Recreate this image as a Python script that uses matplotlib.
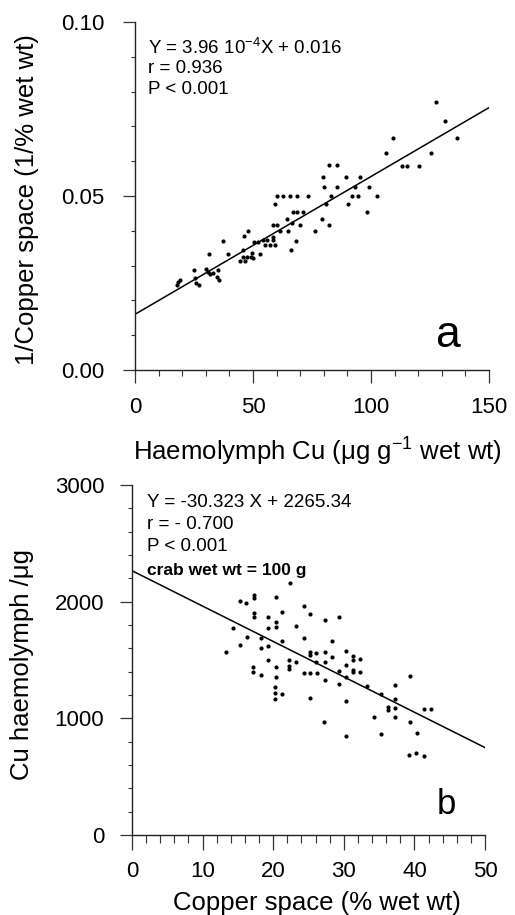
import matplotlib
matplotlib.use("Agg")
import matplotlib.pyplot as plt
import numpy as np
from matplotlib.ticker import MultipleLocator, FormatStrFormatter

plt.rcParams['font.family'] = ['Liberation Sans', 'DejaVu Sans']
plt.rcParams['mathtext.fontset'] = 'custom'
plt.rcParams['mathtext.rm'] = 'Liberation Sans'
plt.rcParams['mathtext.it'] = 'Liberation Sans'
plt.rcParams['mathtext.bf'] = 'Liberation Sans:bold'

# ---- Panel a data: haemolymph Cu vs 1/copper space ----
a_x = [127.5, 131.5, 136.6, 125.6, 109.5, 106.4, 113.0, 115.1, 120.2,
       82.2, 85.7, 79.5, 89.4, 95.3, 80.2, 85.4, 93.2, 99.2, 83.1, 92.1,
       94.3, 102.4, 80.9, 90.3, 98.4, 79.4, 82.2, 76.3,
       60.0, 62.8, 65.7, 68.5, 73.3, 59.2, 67.1, 68.5, 71.3, 64.3, 69.9,
       58.6, 60.0, 66.7, 61.4, 65.0, 68.2, 66.2,
       54.4, 55.8, 58.6, 55.1, 57.2, 59.4, 58.6, 48.0, 46.3, 50.4, 52.2,
       37.1, 31.2, 39.2, 45.9, 45.6, 47.3, 49.0, 44.5, 46.6, 50.1, 53.0, 49.7,
       25.1, 30.1, 31.1, 31.8, 33.2, 35.3, 35.7, 34.6, 25.7, 27.1, 25.4,
       17.7, 18.4, 19.1]
a_y = [0.0771, 0.0716, 0.0666, 0.0624, 0.0666, 0.0624, 0.0587, 0.0587, 0.0587,
       0.0589, 0.0589, 0.0556, 0.0556, 0.0556, 0.0527, 0.0527, 0.0527, 0.0527, 0.0500, 0.0500,
       0.0500, 0.0500, 0.0477, 0.0477, 0.0455, 0.0434, 0.0417, 0.0400,
       0.0500, 0.0500, 0.0500, 0.0500, 0.0500, 0.0477, 0.0455, 0.0455, 0.0455, 0.0434, 0.0417,
       0.0417, 0.0417, 0.0421, 0.0400, 0.0400, 0.0371, 0.0345,
       0.0374, 0.0374, 0.0374, 0.0359, 0.0359, 0.0359, 0.0383, 0.0400, 0.0385, 0.0369, 0.0369,
       0.0371, 0.0332, 0.0332, 0.0345, 0.0326, 0.0326, 0.0326, 0.0314, 0.0314, 0.0323, 0.0332, 0.0335,
       0.0287, 0.0289, 0.0283, 0.0276, 0.0278, 0.0287, 0.0259, 0.0268, 0.0249, 0.0244, 0.0263,
       0.0244, 0.0254, 0.0259]
a_slope, a_icept = 3.96e-4, 0.016

# ---- Panel b data: copper space vs Cu in haemolymph ----
b_x = [13.3, 14.3, 15.3, 16.2, 17.3, 17.3, 15.3, 16.3, 17.3, 17.3, 18.3, 18.3,
       19.3, 19.3, 19.3, 19.3, 17.2, 17.2, 18.3, 20.4, 20.4, 20.4, 21.3, 21.3,
       20.4, 20.4, 20.3, 20.3, 20.3, 21.2, 22.4, 23.2, 22.3, 22.3, 22.3, 23.2,
       24.3, 24.3, 24.3, 25.2, 25.2, 25.2, 25.2, 25.2, 26.1, 26.1, 26.2,
       27.3, 27.3, 27.3, 27.3, 27.2, 28.3, 28.3, 29.3, 29.3, 29.3,
       30.3, 30.3, 30.3, 30.3, 30.3, 31.3, 31.3, 31.3, 31.3, 32.3, 32.3,
       33.3, 34.3, 35.3, 35.3, 36.3, 36.3, 37.3, 37.3, 37.3, 37.3,
       39.4, 39.4, 40.3, 39.3, 40.2, 41.3, 41.3, 42.4]
b_y = [1571, 1777, 2008, 1991, 2054, 2029, 1629, 1700, 1900, 1871, 1691, 1600,
       1866, 1777, 1623, 1500, 1437, 1400, 1371, 2043, 1829, 1786, 1908, 1666,
       1437, 1357, 1271, 1214, 1166, 1209, 2163, 1794, 1500, 1450, 1423, 1486,
       1963, 1686, 1386, 1891, 1571, 1543, 1386, 1171, 1557, 1486, 1386,
       1843, 1571, 1486, 1329, 966, 1663, 1529, 1871, 1406, 1291,
       1580, 1457, 1357, 1149, 849, 1537, 1500, 1414, 1400, 1506, 1400,
       1277, 1014, 1206, 863, 1094, 1071, 1286, 1166, 1086, 1009,
       1366, 966, 871, 686, 706, 677, 1083, 1077]
b_slope, b_icept = -30.323, 2265.34

W, H = 515, 915
fig = plt.figure(figsize=(W / 100, H / 100), dpi=100)

def add_ax(l, r, t, b):
    return fig.add_axes([l / W, 1 - b / H, (r - l) / W, (b - t) / H])

axA = add_ax(135, 489, 22, 370)
axB = add_ax(132, 485, 485, 835)

def style(ax, ypad, xpad, xmaj, xmin_len):
    for s in ('top', 'right'):
        ax.spines[s].set_visible(False)
    for s in ('left', 'bottom'):
        ax.spines[s].set_linewidth(1.0)
        ax.spines[s].set_color('#222222')
    ax.tick_params(axis='y', which='major', length=9, width=0.9, color='#333333',
                   pad=ypad, labelsize=16)
    ax.tick_params(axis='y', which='minor', length=3, width=0.8, color='#333333')
    ax.tick_params(axis='x', which='major', length=xmaj, width=0.9, color='#333333',
                   pad=xpad, labelsize=16)
    ax.tick_params(axis='x', which='minor', length=xmin_len, width=0.8, color='#333333')
    ax.set_facecolor('white')

# Panel a
axA.scatter(a_x, a_y, s=9, color='black', linewidths=0, zorder=3)
xa = np.array([0, 150])
axA.plot(xa, a_slope * xa + a_icept, color='black', lw=1.1, zorder=2)
axA.set_xlim(0, 150)
axA.set_ylim(0, 0.10)
axA.xaxis.set_major_locator(MultipleLocator(50))
axA.xaxis.set_minor_locator(MultipleLocator(10))
axA.yaxis.set_major_locator(MultipleLocator(0.05))
axA.yaxis.set_minor_locator(MultipleLocator(0.01))
axA.yaxis.set_major_formatter(FormatStrFormatter('%.2f'))
style(axA, ypad=13, xpad=10, xmaj=9.5, xmin_len=4.5)
axA.set_xlabel(r"Haemolymph Cu (μg g$^{-1}$ wet wt)", fontsize=18.5, va='top')
axA.xaxis.set_label_coords(0.514, -0.19)
axA.set_ylabel("1/Copper space (1/% wet wt)", fontsize=18.5, va='center')
axA.yaxis.set_label_coords(-0.305, 0.489)
for txt, yy in [(r"Y = 3.96 10$^{-4}$X + 0.016", 0.925), ("r = 0.936", 0.865),
                ("P < 0.001", 0.805)]:
    axA.text(0.037, yy, txt, transform=axA.transAxes, fontsize=13.5, va='center', ha='left')
axA.text(0.884, 0.066, "a", transform=axA.transAxes, fontsize=32, ha='center', va='baseline')

# Panel b
axB.scatter(b_x, b_y, s=9, color='black', linewidths=0, zorder=3)
xb = np.array([0, 50])
axB.plot(xb, b_slope * xb + b_icept, color='black', lw=1.1, zorder=2)
axB.set_xlim(0, 50)
axB.set_ylim(0, 3000)
axB.xaxis.set_major_locator(MultipleLocator(10))
axB.xaxis.set_minor_locator(MultipleLocator(2))
axB.yaxis.set_major_locator(MultipleLocator(1000))
axB.yaxis.set_minor_locator(MultipleLocator(200))
style(axB, ypad=11, xpad=8, xmaj=11, xmin_len=5.5)
axB.set_xlabel("Copper space (% wet wt)", fontsize=18.5, va='top')
axB.xaxis.set_label_coords(0.524, -0.16)
axB.set_ylabel("Cu haemolymph /μg", fontsize=18.5, va='center')
axB.yaxis.set_label_coords(-0.312, 0.486)
for txt, yy in [("Y = -30.323 X + 2265.34", 0.949), ("r = - 0.700", 0.886),
                ("P < 0.001", 0.823)]:
    axB.text(0.042, yy, txt, transform=axB.transAxes, fontsize=13.5, va='center', ha='left')
axB.text(0.042, 0.757, "crab wet wt = 100 g", transform=axB.transAxes, fontsize=12.5,
         va='center', ha='left', fontweight='bold')
axB.text(0.892, 0.06, "b", transform=axB.transAxes, fontsize=25, ha='center', va='baseline')

fig.savefig("out.png", dpi=100)
